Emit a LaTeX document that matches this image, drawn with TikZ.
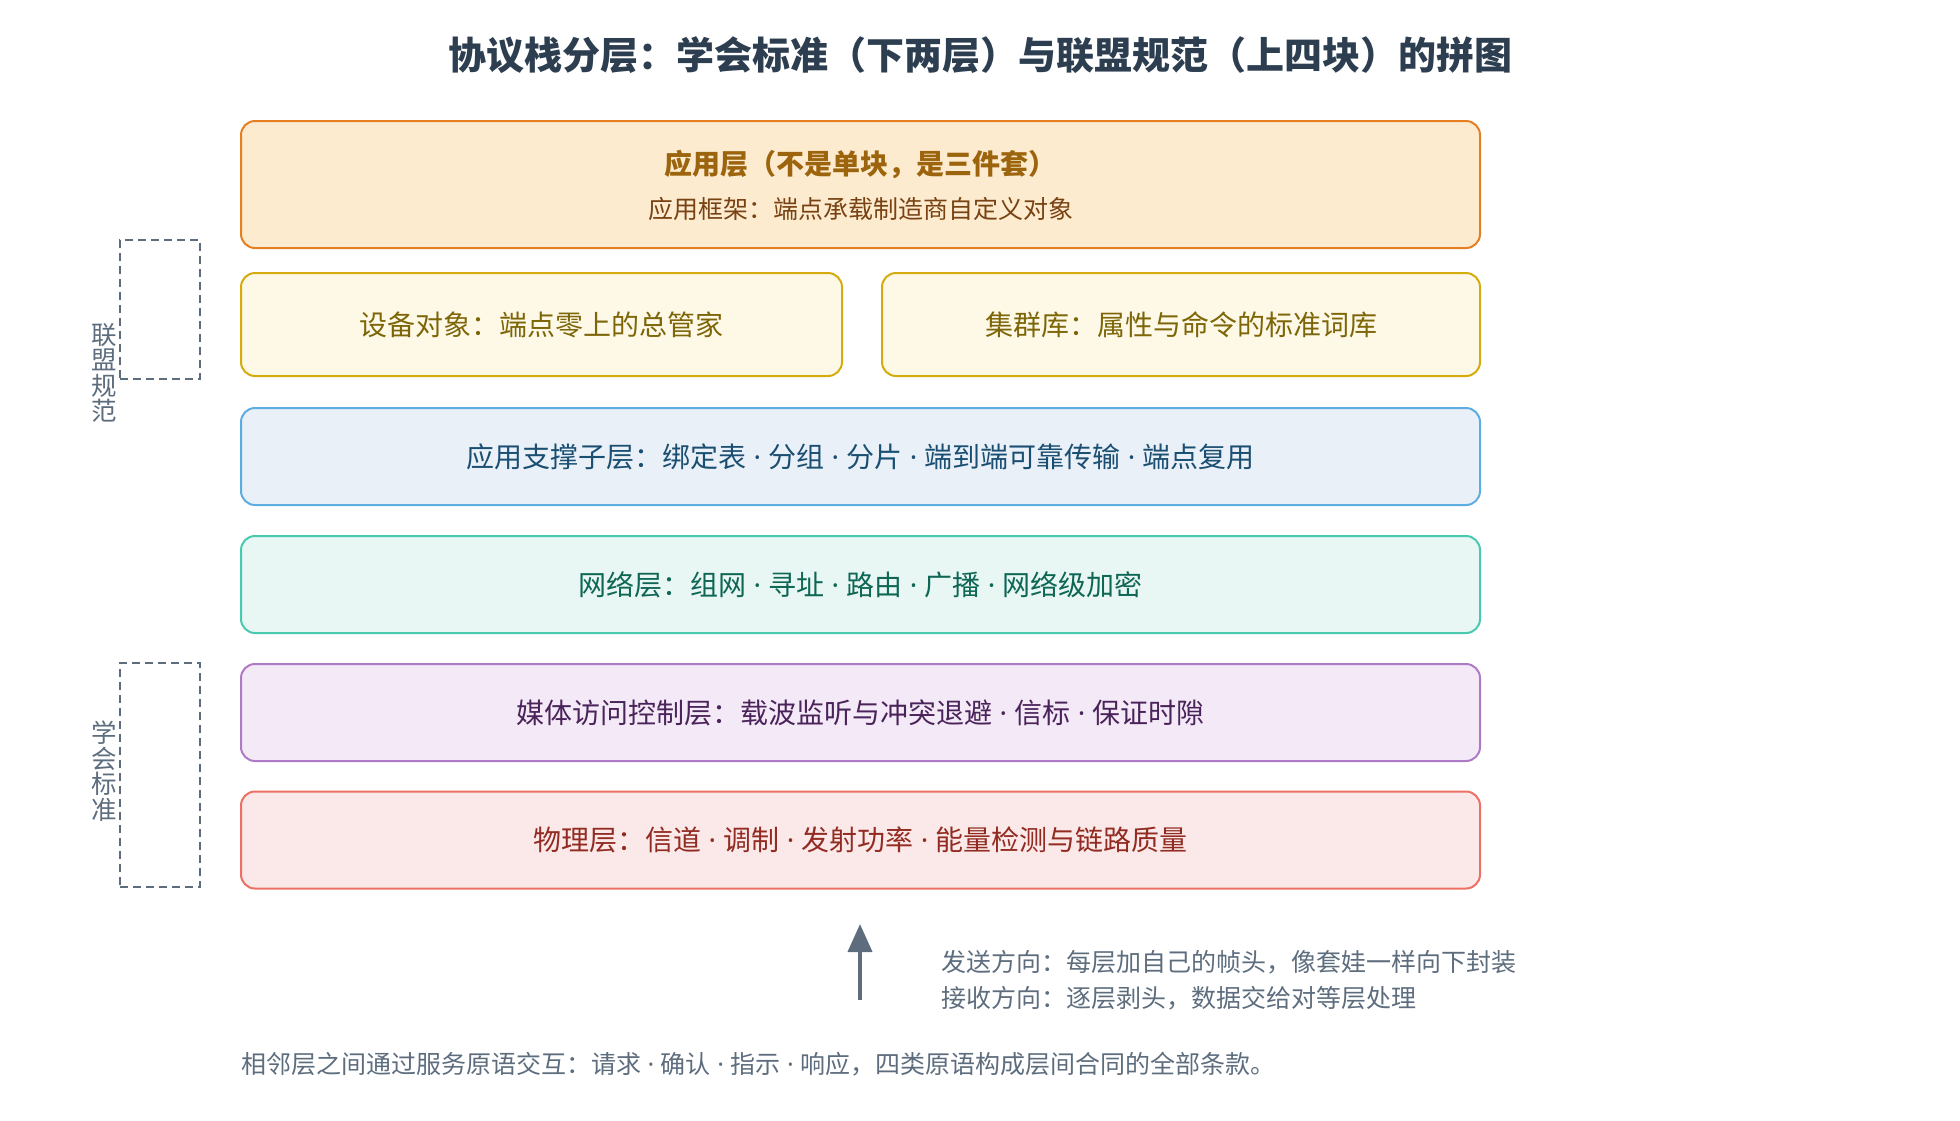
\documentclass[tikz,border=0pt]{standalone}
\usepackage{fontspec}
\setmainfont{Noto Sans CJK SC}
\newfontfamily\dotfont{Noto Sans}
\newcommand{\midsep}{{\dotfont\space·\space}}
\usepackage{tikz}
\usetikzlibrary{arrows.meta, positioning}

\definecolor{titlec}{HTML}{2C3E50}
\definecolor{slate}{HTML}{5D6D7E}
\definecolor{appfill}{HTML}{FDEBD0}
\definecolor{appdraw}{HTML}{E67E22}
\definecolor{apptext}{HTML}{9C640C}
\definecolor{appsub}{HTML}{784212}
\definecolor{objfill}{HTML}{FEF8E6}
\definecolor{objdraw}{HTML}{D4AC0D}
\definecolor{objtext}{HTML}{7D6608}
\definecolor{apsfill}{HTML}{EAF0F8}
\definecolor{apsdraw}{HTML}{5DADE2}
\definecolor{apstext}{HTML}{1B4F72}
\definecolor{nwkfill}{HTML}{E8F7F3}
\definecolor{nwkdraw}{HTML}{48C9B0}
\definecolor{nwktext}{HTML}{0E6655}
\definecolor{macfill}{HTML}{F4EAF7}
\definecolor{macdraw}{HTML}{AF7AC5}
\definecolor{mactext}{HTML}{4A235A}
\definecolor{phyfill}{HTML}{FAE9E8}
\definecolor{phydraw}{HTML}{EC7063}
\definecolor{phytext}{HTML}{922B21}

\tikzset{
  layer/.style={draw, rounded corners=14pt, line width=2pt, inner sep=0pt,
    minimum width=1239pt, minimum height=97pt, align=center,
    font=\fontsize{28}{34}\selectfont},
  halfblock/.style={layer, minimum height=103pt},
  groupbox/.style={draw=slate, line width=2pt, dash pattern=on 8pt off 5pt,
    minimum width=80pt, inner sep=0pt},
  grouplabel/.style={text=slate, align=center, inner sep=0pt,
    font=\fontsize{25.5}{25.5}\selectfont},
  note/.style={text=slate, inner sep=0pt, align=left,
    font=\fontsize{25}{36}\selectfont}
}

\begin{document}
\begin{tikzpicture}[x=1pt, y=-1pt]
      \useasboundingbox (0, 0) rectangle (1960, 1120);

      \node[text=titlec, font=\bfseries\fontsize{38}{44}\selectfont] (title) at (980, 55) {协议栈分层：学会标准（下两层）与联盟规范（上四块）的拼图};

      \node[layer, fill=appfill, draw=appdraw, minimum height=127pt] (app) at (860.5, 184.5) {};
      \node[text=apptext, font=\bfseries\fontsize{28}{34}\selectfont] (apptitle) at (860.5, 164) {应用层（不是单块，是三件套）};
      \node[text=appsub, font=\fontsize{25}{30}\selectfont] (appsubtitle) at (860.5, 209) {应用框架：端点承载制造商自定义对象};

      \node[halfblock, fill=objfill, draw=objdraw, text=objtext, minimum width=601pt] (zdo) at (541.5, 324.5) {设备对象：端点零上的总管家};
      \node[halfblock, fill=objfill, draw=objdraw, text=objtext, minimum width=598pt] (zcl) at (1181, 324.5) {集群库：属性与命令的标准词库};

      \node[layer, fill=apsfill, draw=apsdraw, text=apstext] (aps) at (860.5, 456.5) {应用支撑子层：绑定表\midsep 分组\midsep 分片\midsep 端到端可靠传输\midsep 端点复用};
      \node[layer, fill=nwkfill, draw=nwkdraw, text=nwktext] (nwk) at (860.5, 584.5) {网络层：组网\midsep 寻址\midsep 路由\midsep 广播\midsep 网络级加密};
      \node[layer, fill=macfill, draw=macdraw, text=mactext] (mac) at (860.5, 712.5) {媒体访问控制层：载波监听与冲突退避\midsep 信标\midsep 保证时隙};
      \node[layer, fill=phyfill, draw=phydraw, text=phytext] (phy) at (860.5, 840) {物理层：信道\midsep 调制\midsep 发射功率\midsep 能量检测与链路质量};

      \node[groupbox, minimum height=139pt] (alliance) at (160, 309.5) {};
      \node[groupbox, minimum height=224pt] (ieee) at (160, 775) {};
      \node[grouplabel] (alliancelabel) at (104, 373) {联\\盟\\规\\范};
      \node[grouplabel] (ieeelabel) at (104, 771) {学\\会\\标\\准};

      \coordinate (sendtail) at (860, 1000);
      \coordinate (sendtip) at (860, 924);
      \draw[-{Triangle[length=28pt, width=24pt]}, slate, line width=4pt] (sendtail) -- (sendtip);

      \node[note, anchor=west] (direction) at (941, 980) {发送方向：每层加自己的帧头，像套娃一样向下封装\\接收方向：逐层剥头，数据交给对等层处理};
      \node[note, anchor=west] (primitives) at (241, 1064) {相邻层之间通过服务原语交互：请求\midsep 确认\midsep 指示\midsep 响应，四类原语构成层间合同的全部条款。};

    \end{tikzpicture}
\end{document}
